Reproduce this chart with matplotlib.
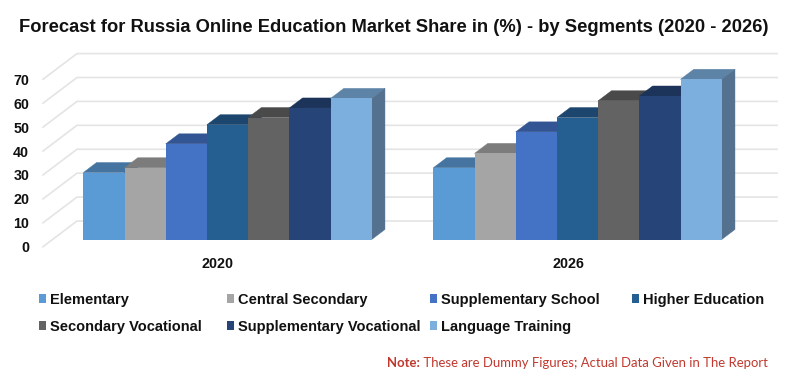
import matplotlib
matplotlib.use("Agg")
import matplotlib.pyplot as plt
from matplotlib.patches import Polygon, Patch

years = ["2020", "2026"]
segments = ["Elementary", "Central Secondary", "Supplementary School", "Higher Education",
            "Secondary Vocational", "Supplementary Vocational", "Language Training"]
values_2020 = [28, 30, 40, 48, 51, 55, 59]
values_2026 = [30, 36, 45, 51, 58, 60, 67]
front_colors = ["#5B9BD5", "#A5A5A5", "#4472C4", "#255E91", "#636363", "#264478", "#7CAFDD"]
top_colors = ["#44749F", "#7C7C7C", "#335593", "#1C466D", "#4A4A4A", "#1C335A", "#5D83A6"]
side_colors = ["#3E6A91", "#717171", "#2E4E86", "#193F63", "#434343", "#192E52", "#54728F"]
yticks = [0, 10, 20, 30, 40, 50, 60, 70]
legend_cols = [[0, 4], [1, 5], [2, 6], [3]]
legend_x = [39, 227, 430, 632]

W, H = 800, 377
plt.rcParams["font.family"] = ["Liberation Sans", "DejaVu Sans"]
fig = plt.figure(figsize=(W / 100, H / 100), dpi=100)
ax = fig.add_axes([43 / W, 1 - 246.7 / H, 700 / W, 167.4 / H])
ax.set_xlim(0, 2)
ax.set_ylim(0, 70)
for s in ax.spines.values():
    s.set_visible(False)
ax.patch.set_visible(False)

# oblique projection of the depth axis, in data units
DX = 34 / 350
DY = 25.7 / 2.391
F0, F1 = 0.28, 0.67
BW = 41.2 / 350
GRID = "#E4E4E4"

for v in yticks:
    ax.plot([0, DX, 2 + DX], [v, v + DY, v + DY], color=GRID, lw=1.2, clip_on=False, zorder=1)

for g, vals in enumerate([values_2020, values_2026]):
    for j, v in enumerate(vals):
        x0 = g + 0.5 + (j - 3.5) * BW + F0 * DX
        x1 = x0 + BW
        y0 = F0 * DY
        ddx = (F1 - F0) * DX
        ddy = (F1 - F0) * DY
        z = 3 + j * 0.1
        ax.add_patch(Polygon([(x0, y0 + v), (x1, y0 + v), (x1 + ddx, y0 + v + ddy), (x0 + ddx, y0 + v + ddy)],
                             fc=top_colors[j], ec=top_colors[j], lw=0.3, clip_on=False, zorder=z))
        ax.add_patch(Polygon([(x1, y0), (x1 + ddx, y0 + ddy), (x1 + ddx, y0 + v + ddy), (x1, y0 + v)],
                             fc=side_colors[j], ec=side_colors[j], lw=0.3, clip_on=False, zorder=z))
        ax.bar(x0, v, BW, bottom=y0, align="edge", color=front_colors[j], clip_on=False, zorder=z + 0.01)

ax.set_yticks(yticks)
ax.set_xticks([0.5, 1.5], years)
ax.tick_params(axis="both", length=0, labelsize=10.3, labelcolor="#111111")
ax.tick_params(axis="y", pad=10)
ax.tick_params(axis="x", pad=7.5)
for t in ax.get_xticklabels() + ax.get_yticklabels():
    t.set_fontweight("bold")

for x, col in zip(legend_x, legend_cols):
    handles = [Patch(fc=front_colors[i], ec="none", label=segments[i]) for i in col]
    leg = ax.legend(handles=handles, loc="upper left", bbox_to_anchor=(x / W, 1 - 293 / H),
                    bbox_transform=fig.transFigure, frameon=False, borderpad=0, borderaxespad=0,
                    handlelength=0.48, handleheight=0.6, handletextpad=0.27, labelspacing=0.86,
                    prop={"weight": "bold", "size": 10.5})
    for tx in leg.get_texts():
        tx.set_color("#111111")
    ax.add_artist(leg)
ax.legend_ = None

fig.text(394 / W, 1 - 27 / H, "Forecast for Russia Online Education Market Share in (%) - by Segments (2020 - 2026)",
         ha="center", va="center", fontsize=13.25, fontweight="bold", color="#111111")

note = fig.text(387 / W, 1 - 363 / H, "Note:", ha="left", va="center", fontsize=9.45,
                fontweight="bold", color="#C0392F", family=["Lato", "DejaVu Sans"])
ax.annotate(" These are Dummy Figures; Actual Data Given in The Report", xy=(1, 0.5), xycoords=note,
            ha="left", va="center", fontsize=9.45, color="#C0392F", family=["Lato", "DejaVu Sans"],
            annotation_clip=False)

fig.savefig("out.png", dpi=100)
